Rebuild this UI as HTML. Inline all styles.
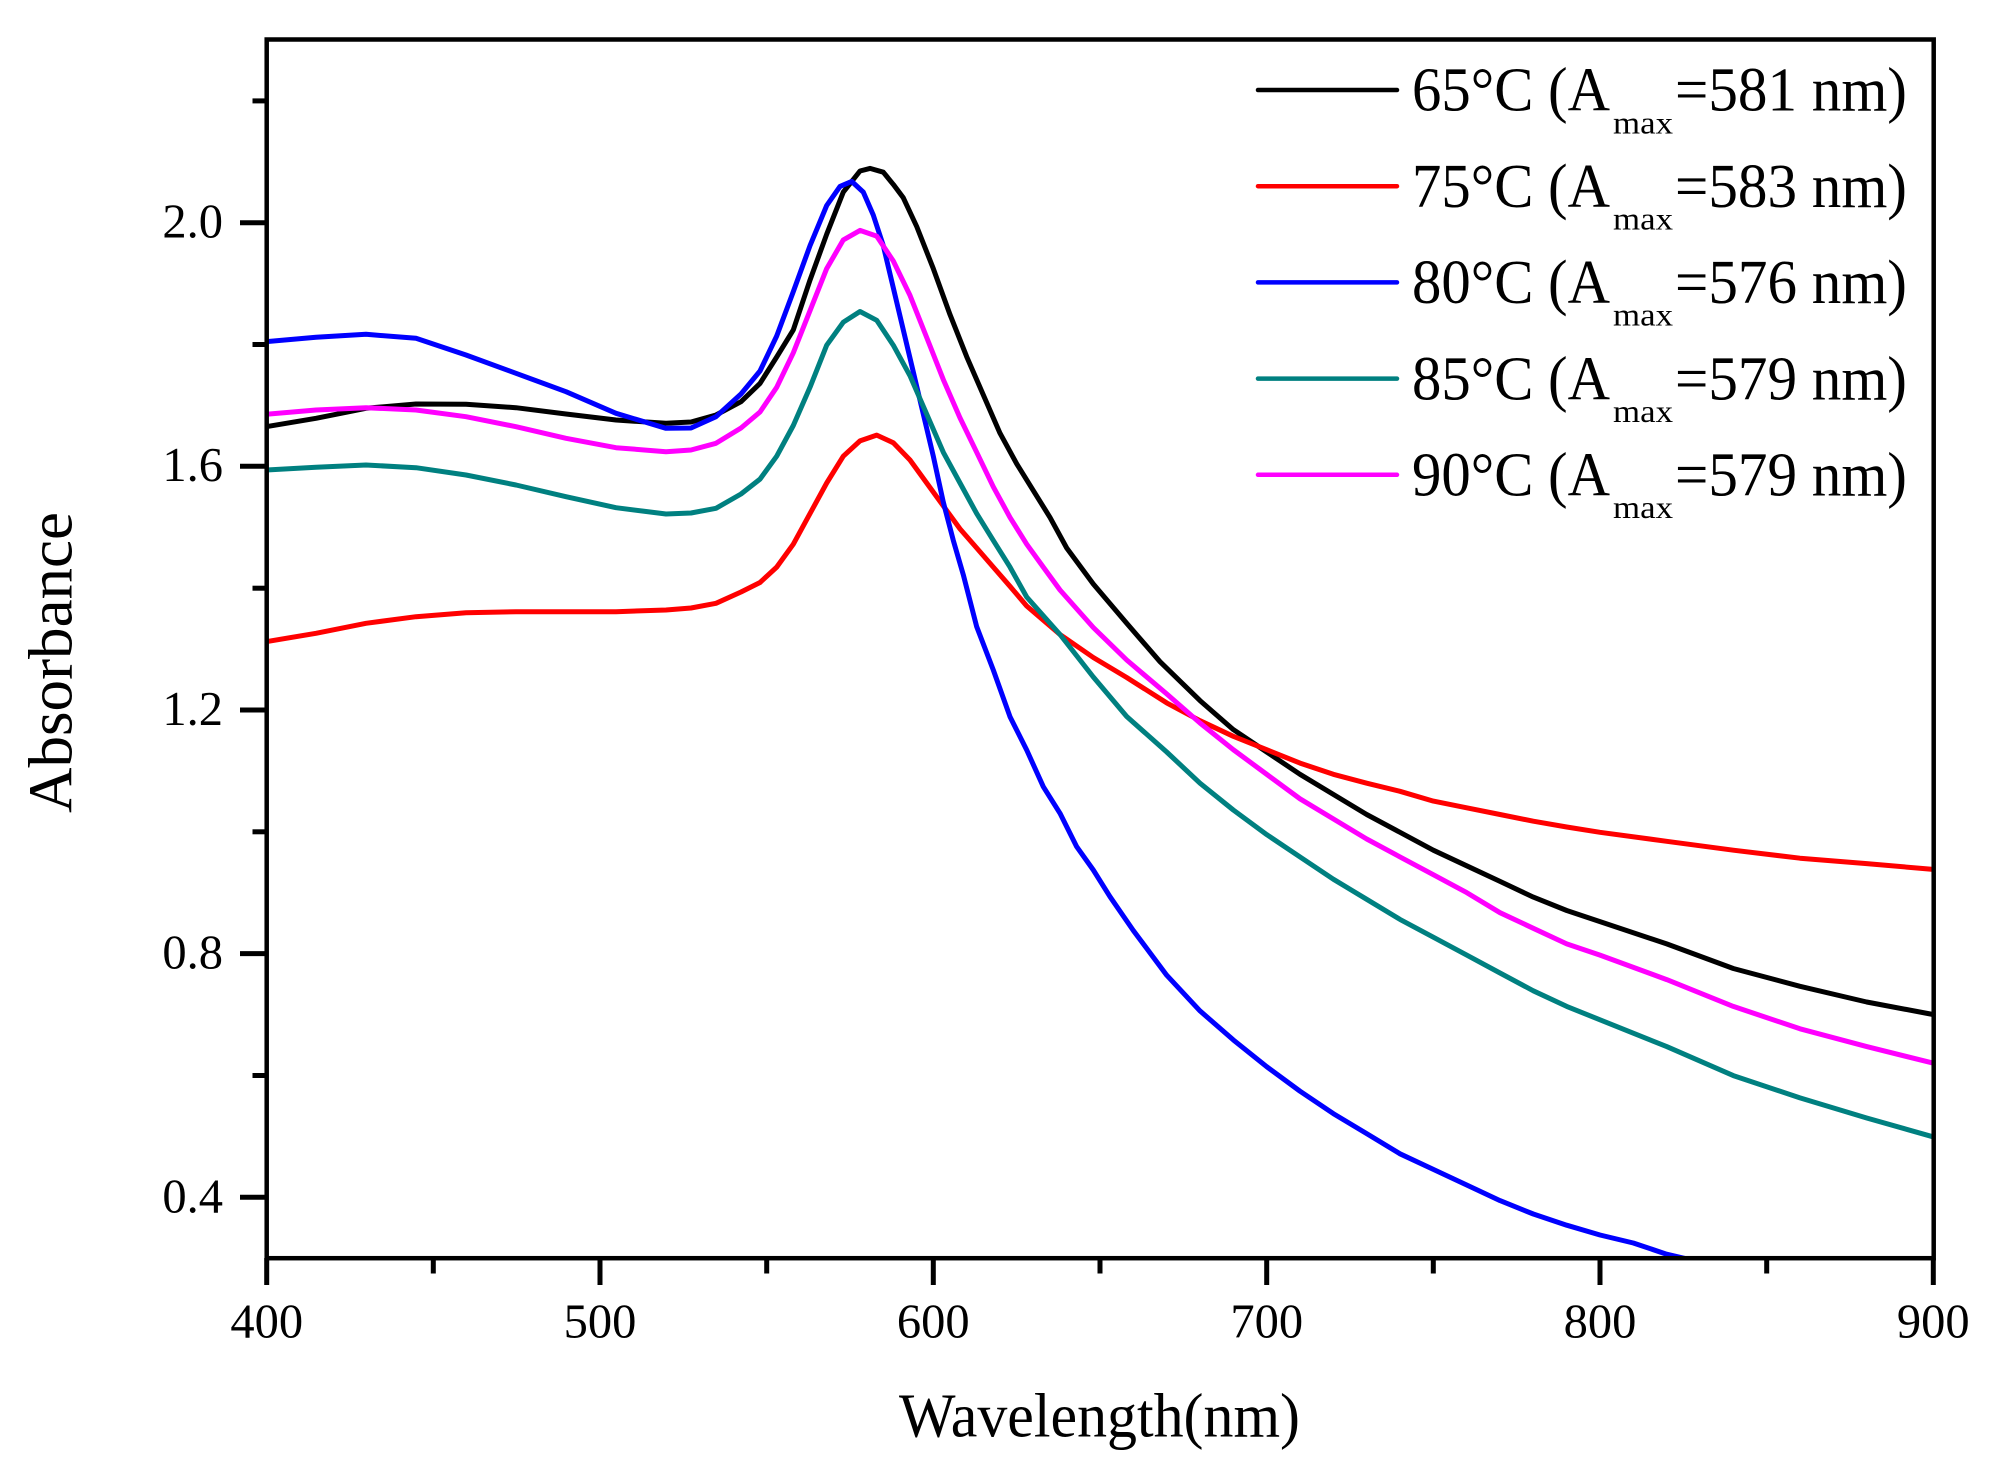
<!DOCTYPE html>
<html>
<head>
<meta charset="utf-8">
<style>
  html,body{margin:0;padding:0;background:#fff;}
  svg{display:block;}
  text{font-family:"Liberation Serif","Times New Roman",serif;fill:#000;}
</style>
</head>
<body>
<svg width="2004" height="1470" viewBox="0 0 2004 1470" xmlns="http://www.w3.org/2000/svg">
  <defs>
    <clipPath id="plot"><rect x="266.7" y="39.5" width="1667" height="1218.7"/></clipPath>
  </defs>
  <rect x="0" y="0" width="2004" height="1470" fill="#fff"/>

  <!-- series -->
  <g clip-path="url(#plot)" fill="none" stroke-width="5" stroke-linejoin="round" stroke-linecap="round">
    <polyline stroke="#000000" points="266,426.7 316,418.3 366,408.3 416,404 466,404.3 516,407.7 566,414 616,420 666,423.3 691,422 716,415 741,401.7 760,383.4 776.7,357 793.3,329.9 810,280.1 826.7,234.2 843.3,192.1 860,171 870,168.4 883.3,172.2 893.3,184.4 903.3,197.8 916.7,226.5 933.3,268.6 950,314.6 966.7,356.7 983.3,394.9 1000,433.2 1016.7,463.8 1033.3,490.6 1050,517.4 1066.7,548 1093.3,584 1126.7,623.3 1160,661.7 1200,700.6 1233.3,729.6 1266.7,752 1300,774.3 1333.3,794.4 1366.7,814.5 1400,832.3 1433.3,850.2 1466.7,865.8 1500,881.4 1533.3,897.1 1566.7,910.5 1600,921.6 1666.7,943.9 1733.3,968.5 1800,986.3 1866.7,1002 1933,1014.5"/>
    <polyline stroke="#ff0000" points="266,641.7 316,633.3 366,623.3 416,616.7 466,612.7 516,611.7 566,611.7 616,611.7 666,610 691,608 716,603.3 741,592 760,582.5 776.7,567.1 793.3,544.2 810,513.6 826.7,483 843.3,456.2 860,440.9 876.7,435.1 893.3,442.8 910,460 926.7,483 943.3,505.9 960,528.9 976.7,548 993.3,567.1 1010,586.3 1026.7,606 1060,634.5 1093.3,657.5 1126.7,677.5 1166.7,702.9 1200,720.7 1233.3,736.3 1266.7,749.7 1300,763.1 1333.3,774.3 1366.7,783.2 1400,791.3 1433.3,801.1 1466.7,807.8 1500,814.5 1533.3,821.2 1566.7,827 1600,832.3 1666.7,841.3 1733.3,850.2 1800,858.2 1866.7,863.6 1933,869.4"/>
    <polyline stroke="#0000ff" points="266,341.7 316,337.3 366,334.3 416,338.3 466,355 516,373.3 566,391.7 616,413.3 666,428.3 691,428 716,416.7 741,394 760,371 776.7,336 793.3,291.6 810,245.7 826.7,205.5 840,186.4 851.7,181.4 863.3,192.1 873.3,215.1 883.3,245.7 893.3,287.8 903.3,329.9 913.3,372 923.3,414.1 933.3,456.2 943.3,502.1 953.3,540.4 963.3,574.8 976.7,626.7 993.3,670 1010,716.7 1026.7,750 1043.3,786.7 1060,813.3 1076.7,846.7 1093.3,870 1110,896.7 1133.3,930.5 1166.7,975.2 1200,1010.9 1233.3,1039.9 1266.7,1066.7 1300,1091.2 1333.3,1113.6 1366.7,1133.6 1400,1153.8 1433.3,1169.4 1466.7,1185 1500,1200.6 1533.3,1214 1566.7,1225.2 1600,1235 1633.3,1243 1666.7,1254.2 1700,1262"/>
    <polyline stroke="#008080" points="266,470 316,467.3 366,465 416,467.7 466,475 516,485 566,496.7 616,507.7 666,514 691,513 716,508.3 741,494 760,479.1 776.7,456.2 793.3,425.5 810,387.3 826.7,345.2 843.3,322.2 860,311.5 876.7,320.3 893.3,345.2 910,375.8 926.7,414.1 943.3,452.3 960,483 976.7,513.6 993.3,540.4 1010,567.1 1026.7,597 1060,634.5 1093.3,677 1126.7,716.5 1166.7,752 1200,783.2 1233.3,810 1266.7,834.6 1300,856.9 1333.3,879.2 1366.7,899.3 1400,919.4 1433.3,937.2 1466.7,955.1 1500,973 1533.3,990.8 1566.7,1006.4 1600,1019.8 1666.7,1046.6 1733.3,1075.6 1800,1097.9 1866.7,1118 1933,1136.8"/>
    <polyline stroke="#ff00ff" points="266,414.3 316,410 366,407.7 416,410 466,416.7 516,426.7 566,438.3 616,447.7 666,451.7 691,450 716,443.3 741,428 760,412 776.7,387.3 793.3,352.8 810,310.7 826.7,268.6 843.3,239.9 860,230.4 876.7,236.1 893.3,261 910,295.4 926.7,337.5 943.3,379.6 960,417.9 976.7,452.3 993.3,486.8 1010,517.4 1026.7,544.2 1043.3,567.1 1060,590 1093.3,627.5 1126.7,660 1166.7,693.9 1200,723 1233.3,749.7 1266.7,774.3 1300,798.8 1333.3,818.9 1366.7,839 1400,856.9 1433.3,874.7 1466.7,892.6 1500,912.7 1533.3,928.3 1566.7,943.9 1600,955.1 1666.7,979.6 1733.3,1006.4 1800,1028.8 1866.7,1046.6 1933,1063.1"/>
  </g>

  <!-- frame -->
  <rect x="266.7" y="39.5" width="1667" height="1218.7" fill="none" stroke="#000" stroke-width="4.5"/>

  <!-- y ticks -->
  <g stroke="#000" stroke-width="5">
    <line x1="240" y1="222.7" x2="266" y2="222.7"/>
    <line x1="240" y1="466.3" x2="266" y2="466.3"/>
    <line x1="240" y1="710" x2="266" y2="710"/>
    <line x1="240" y1="953.6" x2="266" y2="953.6"/>
    <line x1="240" y1="1197.3" x2="266" y2="1197.3"/>
    <line x1="252.5" y1="100.9" x2="266" y2="100.9"/>
    <line x1="252.5" y1="344.5" x2="266" y2="344.5"/>
    <line x1="252.5" y1="588.2" x2="266" y2="588.2"/>
    <line x1="252.5" y1="831.8" x2="266" y2="831.8"/>
    <line x1="252.5" y1="1075.5" x2="266" y2="1075.5"/>
  </g>
  <!-- x ticks -->
  <g stroke="#000" stroke-width="5">
    <line x1="266.7" y1="1258" x2="266.7" y2="1285"/>
    <line x1="600" y1="1258" x2="600" y2="1285"/>
    <line x1="933.3" y1="1258" x2="933.3" y2="1285"/>
    <line x1="1266.7" y1="1258" x2="1266.7" y2="1285"/>
    <line x1="1600" y1="1258" x2="1600" y2="1285"/>
    <line x1="1933.3" y1="1258" x2="1933.3" y2="1285"/>
    <line x1="433.3" y1="1258" x2="433.3" y2="1273.5"/>
    <line x1="766.7" y1="1258" x2="766.7" y2="1273.5"/>
    <line x1="1100" y1="1258" x2="1100" y2="1273.5"/>
    <line x1="1433.3" y1="1258" x2="1433.3" y2="1273.5"/>
    <line x1="1766.7" y1="1258" x2="1766.7" y2="1273.5"/>
  </g>

  <!-- y tick labels -->
  <g font-size="48.5" text-anchor="end">
    <text x="223" y="237.5">2.0</text>
    <text x="223" y="481.2">1.6</text>
    <text x="223" y="725">1.2</text>
    <text x="223" y="968.7">0.8</text>
    <text x="223" y="1212.5">0.4</text>
  </g>
  <!-- x tick labels -->
  <g font-size="48.5" text-anchor="middle">
    <text x="266.7" y="1337.7">400</text>
    <text x="600" y="1337.7">500</text>
    <text x="933.3" y="1337.7">600</text>
    <text x="1266.7" y="1337.7">700</text>
    <text x="1600" y="1337.7">800</text>
    <text x="1933.3" y="1337.7">900</text>
  </g>

  <!-- axis titles -->
  <text x="899" y="1436.7" font-size="62" textLength="401" lengthAdjust="spacingAndGlyphs">Wavelength(nm)</text>
  <text transform="translate(71.7,662.5) rotate(-90)" x="0" y="0" font-size="62" text-anchor="middle" textLength="301" lengthAdjust="spacingAndGlyphs">Absorbance</text>

  <!-- legend -->
  <g stroke-width="4.5" stroke-linecap="round">
    <line x1="1258" y1="90" x2="1397" y2="90" stroke="#000000"/>
    <line x1="1258" y1="186.2" x2="1397" y2="186.2" stroke="#ff0000"/>
    <line x1="1258" y1="282.4" x2="1397" y2="282.4" stroke="#0000ff"/>
    <line x1="1258" y1="378.6" x2="1397" y2="378.6" stroke="#008080"/>
    <line x1="1258" y1="474.8" x2="1397" y2="474.8" stroke="#ff00ff"/>
  </g>
  <g font-size="62">
    <text x="1412" y="110.7" textLength="198" lengthAdjust="spacingAndGlyphs">65°C (A</text>
    <text x="1675" y="110.7" textLength="232" lengthAdjust="spacingAndGlyphs">=581 nm)</text>
    <text x="1412" y="206.9" textLength="198" lengthAdjust="spacingAndGlyphs">75°C (A</text>
    <text x="1675" y="206.9" textLength="232" lengthAdjust="spacingAndGlyphs">=583 nm)</text>
    <text x="1412" y="303.1" textLength="198" lengthAdjust="spacingAndGlyphs">80°C (A</text>
    <text x="1675" y="303.1" textLength="232" lengthAdjust="spacingAndGlyphs">=576 nm)</text>
    <text x="1412" y="399.3" textLength="198" lengthAdjust="spacingAndGlyphs">85°C (A</text>
    <text x="1675" y="399.3" textLength="232" lengthAdjust="spacingAndGlyphs">=579 nm)</text>
    <text x="1412" y="495.5" textLength="198" lengthAdjust="spacingAndGlyphs">90°C (A</text>
    <text x="1675" y="495.5" textLength="232" lengthAdjust="spacingAndGlyphs">=579 nm)</text>
  </g>
  <g font-size="32">
    <text x="1613" y="133.3" textLength="60" lengthAdjust="spacingAndGlyphs">max</text>
    <text x="1613" y="229.5" textLength="60" lengthAdjust="spacingAndGlyphs">max</text>
    <text x="1613" y="325.7" textLength="60" lengthAdjust="spacingAndGlyphs">max</text>
    <text x="1613" y="421.9" textLength="60" lengthAdjust="spacingAndGlyphs">max</text>
    <text x="1613" y="518.1" textLength="60" lengthAdjust="spacingAndGlyphs">max</text>
  </g>
</svg>
</body>
</html>
